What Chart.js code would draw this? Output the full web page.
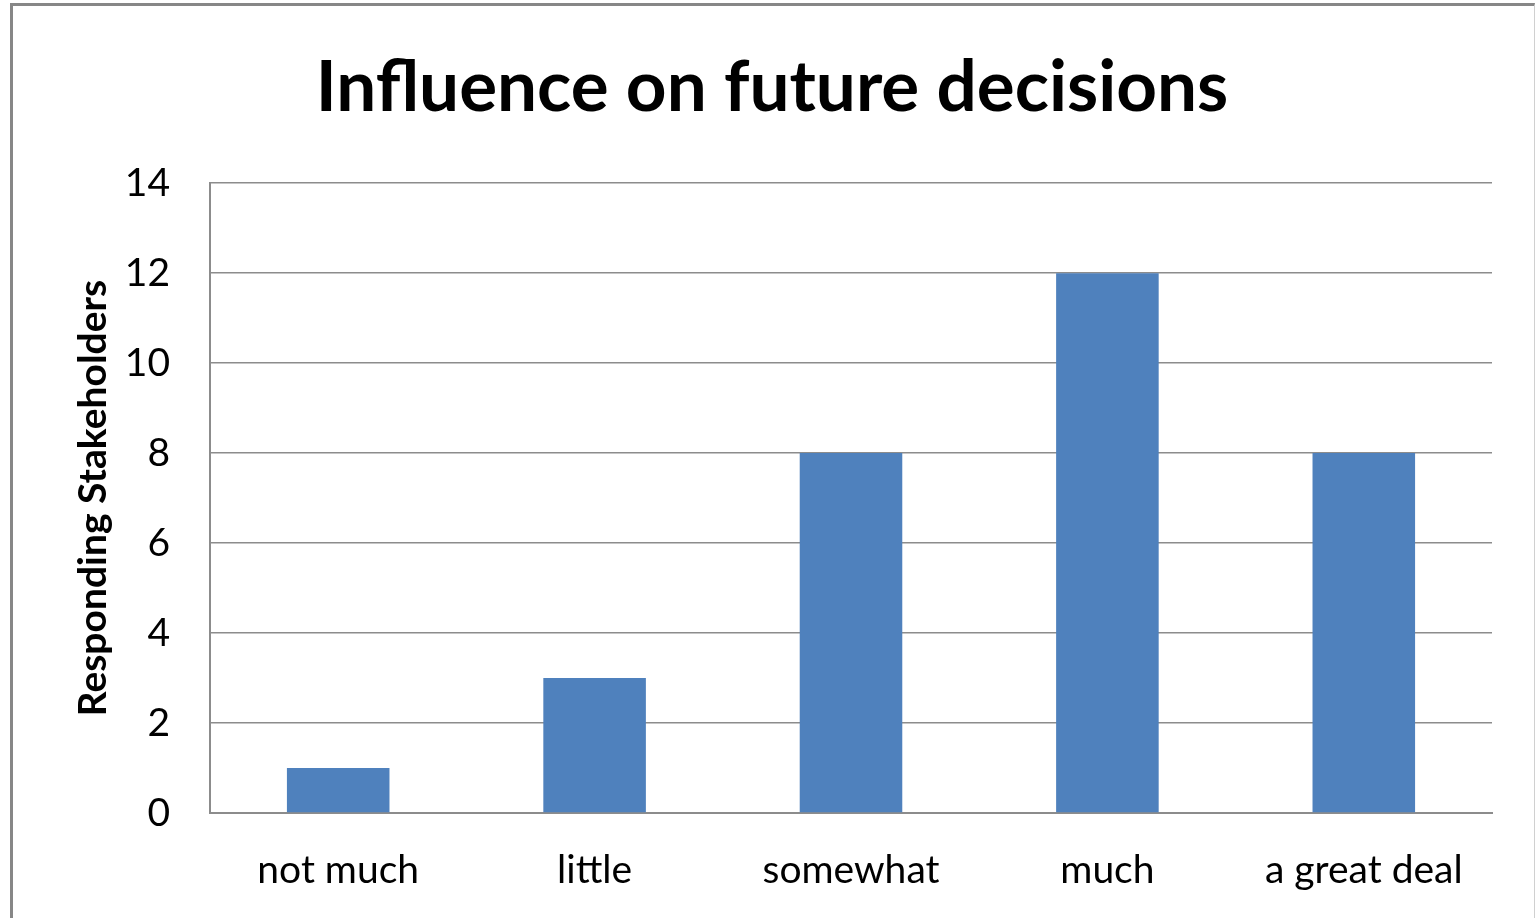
<!DOCTYPE html>
<html>
<head>
<meta charset="utf-8">
<script src="https://cdn.jsdelivr.net/npm/chart.js@4.4.1/dist/chart.umd.min.js"></script>
<style>
  html, body { margin: 0; padding: 0; background: #fff; overflow: hidden; }
  #frame {
    position: absolute; left: 10px; top: 3px; width: 1521px; height: 930px;
    border-left: 3px solid #878787; border-top: 3px solid #878787; border-right: 1px solid #d0d0d0;
    background: #fff;
  }
  #wrap { position: absolute; left: -13px; top: -6px; width: 1535px; height: 918px; }
</style>
</head>
<body>
<div id="frame"><div id="wrap"><canvas id="c" width="1535" height="918"></canvas></div></div>
<script>
const categories = ['not much', 'little', 'somewhat', 'much', 'a great deal'];
const respondents = [1, 3, 8, 12, 8];
const yTicks = [0, 2, 4, 6, 8, 10, 12, 14];

const FONT = 'Lato, "Open Sans", sans-serif';
const GRID = '#8c8c8c';

new Chart(document.getElementById('c'), {
  type: 'bar',
  data: {
    labels: categories,
    datasets: [{
      data: respondents,
      backgroundColor: '#4f81bd',
      borderWidth: 0,
      barPercentage: 0.4,
      categoryPercentage: 1.0
    }]
  },
  options: {
    responsive: false,
    animation: false,
    layout: { padding: { left: 52, right: 43, top: 46, bottom: 0 } },
    plugins: {
      legend: { display: false },
      tooltip: { enabled: false },
      title: {
        display: true,
        text: 'Influence on future decisions',
        color: '#000',
        font: { family: FONT, size: 71, weight: 'bold' },
        padding: { top: 0, bottom: 52 }
      }
    },
    scales: {
      x: {
        afterFit: s => { s.height = 105; },
        grid: { display: false, drawTicks: false },
        border: { display: true, color: GRID, width: 2 },
        ticks: { color: '#000', font: { family: FONT, size: 39 }, padding: 34, maxRotation: 0 }
      },
      y: {
        min: 0, max: 14,
        afterFit: s => { s.width = 158; },
        afterBuildTicks: s => { s.ticks = yTicks.map(v => ({ value: v })); },
        grid: { color: GRID, lineWidth: 1.5, drawTicks: false },
        border: { display: true, color: GRID, width: 2 },
        ticks: { color: '#000', font: { family: FONT, size: 39 }, padding: 40 },
        title: {
          display: true,
          text: 'Responding Stakeholders',
          color: '#000',
          font: { family: FONT, size: 39, weight: 'bold' },
          padding: { top: 18, bottom: 0 }
        }
      }
    }
  }
});
</script>
</body>
</html>
